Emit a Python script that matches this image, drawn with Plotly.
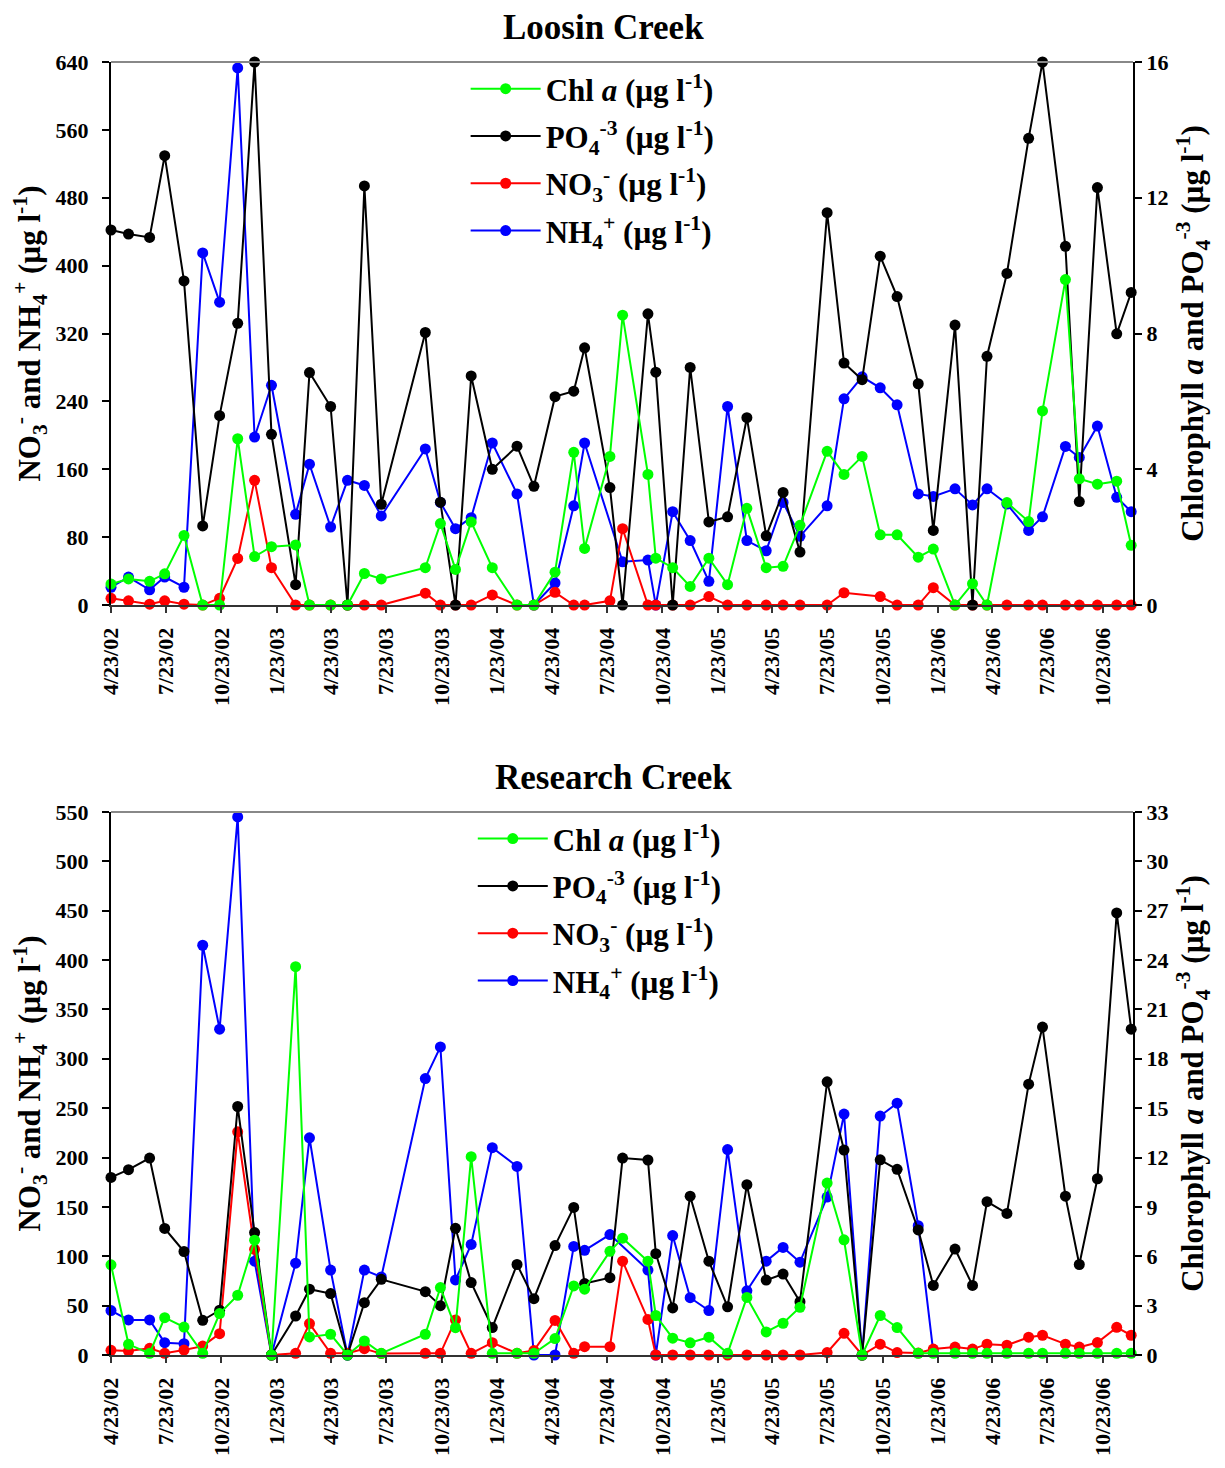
import pandas as pd
import plotly.graph_objects as go

# ---------------- data ----------------
dates = [
    "2002-04-23", "2002-05-22", "2002-06-26", "2002-07-21", "2002-08-22", "2002-09-22",
    "2002-10-20", "2002-11-19", "2002-12-17", "2003-01-14", "2003-02-23", "2003-03-18",
    "2003-04-22", "2003-05-20", "2003-06-17", "2003-07-15", "2003-09-26", "2003-10-21",
    "2003-11-15", "2003-12-11", "2004-01-15", "2004-02-25", "2004-03-24", "2004-04-28",
    "2004-05-29", "2004-06-16", "2004-07-28", "2004-08-18", "2004-09-29", "2004-10-12",
    "2004-11-09", "2004-12-08", "2005-01-08", "2005-02-08", "2005-03-12", "2005-04-13",
    "2005-05-11", "2005-06-08", "2005-07-23", "2005-08-20", "2005-09-19", "2005-10-19",
    "2005-11-16", "2005-12-21", "2006-01-15", "2006-02-20", "2006-03-21", "2006-04-14",
    "2006-05-17", "2006-06-22", "2006-07-15", "2006-08-22", "2006-09-14", "2006-10-14",
    "2006-11-15", "2006-12-09",
]

tick_labels = ["4/23/02", "7/23/02", "10/23/02", "1/23/03", "4/23/03", "7/23/03", "10/23/03",
               "1/23/04", "4/23/04", "7/23/04", "10/23/04", "1/23/05", "4/23/05", "7/23/05",
               "10/23/05", "1/23/06", "4/23/06", "7/23/06", "10/23/06"]

# Loosin Creek
loosin_chl = [0.62, 0.77, 0.7, 0.92, 2.05, 0, 0, 4.9, 1.43, 1.72,
              1.77, 0, 0, 0, 0.93, 0.77, 1.1, 2.4, 1.05, 2.45,
              1.1, 0, 0, 0.97, 4.5, 1.67, 4.38, 8.54, 3.85, 1.38,
              1.1, 0.55, 1.38, 0.6, 2.85, 1.1, 1.14, 2.35, 4.53, 3.85,
              4.38, 2.07, 2.07, 1.41, 1.65, 0, 0.63, 0, 3.02, 2.46,
              5.72, 9.59, 3.72, 3.56, 3.65, 1.76]
loosin_po4 = [11.05, 10.93, 10.83, 13.24, 9.55, 2.33, 5.58, 8.3, 16.0, 5.03,
              0.6, 6.85, 5.85, 0, 12.35, 2.97, 8.03, 3.03, 0, 6.75,
              4.0, 4.68, 3.5, 6.14, 6.3, 7.58, 3.46, 0, 8.58, 6.86,
              0, 7.0, 2.45, 2.6, 5.52, 2.04, 3.32, 1.56, 11.56, 7.13,
              6.64, 10.28, 9.09, 6.52, 2.2, 8.25, 0, 7.33, 9.77, 13.75,
              16.0, 10.57, 3.05, 12.3, 7.99, 9.21]
loosin_no3 = [8, 5, 1, 5, 1, 0, 8, 55, 147, 44,
              0, 0, 0, 0, 0, 0, 14, 0, 0, 0,
              12, 0, 0, 15, 0, 0, 5, 90, 0, 0,
              0, 0, 10, 0, 0, 0, 0, 0, 0, 14.5,
              None, 10, 0, 0, 20.5, 0, 0, 0, 0, 0,
              0, 0, 0, 0, 0, 0]
loosin_nh4 = [21, 33, 18, 33, 21, 415, 357, 633, 198, 259,
              107, 166, 92, 147, 141, 105, 184, 121, 90, 103,
              191, 131, 0, 26, 117, 191, None, 51, 53, 0,
              110, 76, 28, 234, 76, 64, 121, 81, 117, 243,
              269, 256, 236, 131, 128, 137, 118, 137, 119, 88,
              104, 187, 174, 211, 127, 110]

# Research Creek
research_chl = [5.48, 0.65, 0.1, 2.27, 1.7, 0.1, 2.52, 3.63, 6.98, 0,
                23.6, 1.1, 1.26, 0, 0.85, 0.1, 1.26, 4.1, 1.66, 12.05,
                0.1, 0.1, 0.1, 1.0, 4.2, 4.0, 6.3, 7.1, 5.7, 2.4,
                1.02, 0.74, 1.08, 0.1, 3.5, 1.4, 1.93, 2.9, 10.45, 7.0,
                0, 2.4, 1.67, 0.1, 0.1, 0.1, 0.1, 0.1, 0.1, 0.1,
                0.1, 0.1, 0.1, 0.1, 0.1, 0.1]
research_po4 = [10.79, 11.26, 11.97, 7.69, 6.29, 2.11, 2.72, 15.1, 7.44, 0,
                2.37, 4.0, 3.73, 0, 3.18, 4.6, 3.85, 3.0, 7.7, 4.4,
                1.67, 5.5, 3.42, 6.65, 8.97, 4.34, 4.7, 11.97, 11.85, 6.16,
                2.86, 9.65, 5.7, 2.93, 10.35, 4.55, 4.92, 3.24, 16.6, 12.45,
                0, 11.86, 11.28, 7.6, 4.23, 6.44, 4.23, 9.32, 8.6, 16.46,
                19.93, 9.65, 5.5, 10.71, 26.86, 19.8]
research_no3 = [4.7, 4, 6.8, 1.7, 5, 9, 21.6, 226, 107, 0,
                1.7, 31.8, 1.7, 1.7, 6.4, 1.4, 1.7, 1.7, 35.5, 1.7,
                12.5, 1.7, 4.5, 35, 1.7, 8.4, 8.4, 95, 36, 0,
                0, 0, 0, 0, 0, 0, 0, 0, 2.5, 22,
                0, 11, 2.5, 2, 6, 8, 6, 11, 10, 18,
                20, 11, 8, 12.6, 28, 20]
research_nh4 = [45, 35.5, 35.5, 12.5, 11.5, 415, 330, 545, 95, 0,
                93, 220, 86, 0, 86, 79, 280, 312, 76, 112,
                210, 191, 0, 0, 110, 106, 122, None, 86, 0,
                121, 58, 45, 208, 65, 95, 109, 94, 160, 244,
                0, 242, 255, 131, 3, None, None, None, None, None,
                None, None, None, None, None, None]

# ---------------- styling ----------------
FONT = "Liberation Serif"
GREEN, BLACK, RED, BLUE = "#00ff00", "#000000", "#ff0000", "#0000ff"
tickvals = list(pd.to_datetime(tick_labels, format="%m/%d/%y"))
x_range = ["2002-04-23", "2006-12-12"]

lab_chl = "Chl <i>a</i> (µg l<sup>-1</sup>)"
lab_po4 = "PO<sub>4</sub><sup>-3</sup> (µg l<sup>-1</sup>)"
lab_no3 = "NO<sub>3</sub><sup>-</sup> (µg l<sup>-1</sup>)"
lab_nh4 = "NH<sub>4</sub><sup>+</sup> (µg l<sup>-1</sup>)"

fig = go.Figure()


def add_panel(xa, ya_left, ya_right, legend, chl, po4, no3, nh4):
    specs = [
        (nh4, ya_left, BLUE, lab_nh4, 4),
        (no3, ya_left, RED, lab_no3, 3),
        (po4, ya_right, BLACK, lab_po4, 2),
        (chl, ya_right, GREEN, lab_chl, 1),
    ]
    for vals, ya, col, name, rank in specs:
        fig.add_trace(go.Scatter(
            x=dates, y=vals, xaxis=xa, yaxis=ya, name=name,
            mode="lines+markers", connectgaps=True, cliponaxis=False,
            line=dict(color=col, width=2),
            marker=dict(color=col, size=11),
            legend=legend, legendrank=rank, legendgroup=f"{legend}_{rank}",
        ))


add_panel("x", "y", "y2", "legend", loosin_chl, loosin_po4, loosin_no3, loosin_nh4)
add_panel("x2", "y3", "y4", "legend2", research_chl, research_po4, research_no3, research_nh4)

tickfont = dict(family=FONT, size=22, color="black", weight="bold")
titlefont = dict(family=FONT, size=31, color="black", weight="bold")
legfont = dict(family=FONT, size=31, color="black", weight="bold")

xcommon = dict(
    type="date", range=x_range, tickvals=tickvals, ticktext=tick_labels,
    tickangle=-90, tickfont=tickfont, ticks="outside", ticklen=6, tickwidth=1.5,
    tickcolor="#333", showline=True, linecolor="#333", linewidth=2,
    showgrid=False, zeroline=False, automargin=False, ticklabelstandoff=6,
)
left_common = dict(
    ticks="outside", ticklen=7, tickwidth=1.5, tickcolor="black", showline=True,
    linecolor="black", linewidth=2, showgrid=False, zeroline=False, tickfont=tickfont,
    automargin=False, ticklabelstandoff=9,
    title=dict(text="NO<sub>3</sub><sup>-</sup> and NH<sub>4</sub><sup>+</sup> (µg l<sup>-1</sup>)",
               font=titlefont, standoff=8),
)
right_common = dict(
    ticks="outside", ticklen=7, tickwidth=1.5, tickcolor="black", showline=True,
    linecolor="black", linewidth=2, showgrid=False, zeroline=False, tickfont=tickfont,
    side="right", automargin=False, ticklabelstandoff=0,
    title=dict(text="Chlorophyll <i>a</i> and PO<sub>4</sub><sup>-3</sup> (µg l<sup>-1</sup>)",
               font=titlefont, standoff=14),
)

top_dom = [0.58, 1.0]
bot_dom = [0.0, 0.42]

fig.update_layout(
    width=1217, height=1460,
    margin=dict(l=103, r=92, t=54, b=113),
    paper_bgcolor="white", plot_bgcolor="white",
    font=dict(family=FONT, color="black"),
    xaxis=dict(domain=[0, 1], anchor="y", **xcommon),
    yaxis=dict(domain=top_dom, anchor="x", range=[0, 640], dtick=80, **left_common),
    yaxis2=dict(overlaying="y", anchor="x", range=[0, 16], dtick=4, **right_common),
    xaxis2=dict(domain=[0, 1], anchor="y3", **xcommon),
    yaxis3=dict(domain=bot_dom, anchor="x2", range=[0, 550], dtick=50, **left_common),
    yaxis4=dict(overlaying="y3", anchor="x2", range=[0, 33], dtick=3, **right_common),
    legend=dict(x=0.347, y=1.0, xanchor="left", yanchor="top", bgcolor="rgba(0,0,0,0)",
                font=legfont, tracegroupgap=4, itemwidth=70),
    legend2=dict(x=0.354, y=0.42, xanchor="left", yanchor="top", bgcolor="rgba(0,0,0,0)",
                 font=legfont, tracegroupgap=4, itemwidth=70),
    showlegend=True,
    annotations=[
        dict(text="Loosin Creek", x=0.482, y=1.0, xref="paper", yref="paper",
             xanchor="center", yanchor="bottom", yshift=13, showarrow=False,
             font=dict(family=FONT, size=35, color="black", weight="bold")),
        dict(text="Research Creek", x=0.492, y=0.42, xref="paper", yref="paper",
             xanchor="center", yanchor="bottom", yshift=13, showarrow=False,
             font=dict(family=FONT, size=35, color="black", weight="bold")),
    ],
    shapes=[
        dict(type="line", xref="x domain", yref="y domain", x0=0, x1=1, y0=1, y1=1,
             line=dict(color="#888", width=2)),
        dict(type="line", xref="x2 domain", yref="y3 domain", x0=0, x1=1, y0=1, y1=1,
             line=dict(color="#888", width=2)),
    ],
)

fig.write_html("out.html")
